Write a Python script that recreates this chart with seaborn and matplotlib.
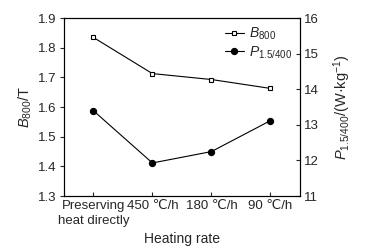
import pandas as pd
import numpy as np
import matplotlib
matplotlib.use('Agg')
import matplotlib.pyplot as plt
import seaborn as sns

sns.set_style('ticks')
plt.rcParams['font.family'] = ['Liberation Sans', 'DejaVu Sans']
plt.rcParams['mathtext.fontset'] = 'custom'
plt.rcParams['mathtext.rm'] = 'Liberation Sans'
plt.rcParams['mathtext.it'] = 'Liberation Sans:italic'
plt.rcParams['font.size'] = 9.5

# ===== 数据 =====
categories = ['Preserving\nheat directly', '450 \u2103/h', '180 \u2103/h', '90 \u2103/h']
b800 = [1.835, 1.713, 1.693, 1.663]
p_loss = [13.40, 11.93, 12.25, 13.12]

df = pd.DataFrame({'x': np.arange(len(categories)), 'B': b800, 'P': p_loss})

fig, ax = plt.subplots(figsize=(3.69, 2.52), dpi=100)
fig.subplots_adjust(left=0.173, right=0.813, top=0.928, bottom=0.222)
ax2 = ax.twinx()

sns.lineplot(data=df, x='x', y='B', ax=ax, color='black', lw=0.8,
             marker='s', markersize=3.5, markerfacecolor='white',
             markeredgecolor='black', markeredgewidth=0.8, label='$B_{800}$', legend=False)
sns.lineplot(data=df, x='x', y='P', ax=ax2, color='black', lw=0.8,
             marker='o', markersize=4.5, markerfacecolor='black',
             markeredgecolor='black', label='$P_{1.5/400}$', legend=False)

ax.set_xlim(-0.5, 3.5)
ax.set_ylim(1.3, 1.9)
ax.set_yticks(np.arange(1.3, 1.91, 0.1))
ax2.set_ylim(11, 16)
ax2.set_yticks(range(11, 17))
ax.set_xticks(df['x'])
ax.set_xticklabels(categories, va='top', linespacing=1.35)
ax.set_xlabel('Heating rate', labelpad=3, fontsize=10)
ax.set_ylabel('$B_{800}$/T', labelpad=3, fontsize=10.5)
ax2.set_ylabel('$P_{1.5/400}$/(W\u00b7kg$^{-1}$)', labelpad=9, fontsize=10.5)

ax.tick_params(axis='x', direction='in', length=3, width=0.8, pad=3)
ax.tick_params(axis='y', direction='out', length=3, width=0.8, pad=2)
ax2.tick_params(axis='y', direction='in', length=3, width=0.8, pad=3)
for a in (ax, ax2):
    for s in a.spines.values():
        s.set_linewidth(0.8)
        s.set_color('black')

h1, l1 = ax.get_legend_handles_labels()
h2, l2 = ax2.get_legend_handles_labels()
ax2.legend(h1 + h2, l1 + l2, loc='upper right', frameon=False, fontsize=10,
           handlelength=1.3, handletextpad=0.4, labelspacing=0.15,
           borderaxespad=0.15)

fig.savefig('out.png', dpi=100)
